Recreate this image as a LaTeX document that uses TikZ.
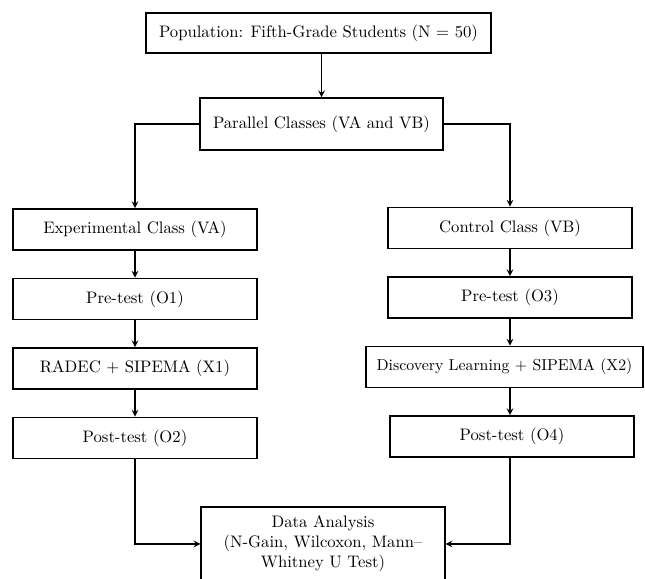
\documentclass[tikz,border=0pt]{standalone}
\usepackage{tikz}
\usetikzlibrary{arrows,positioning}
\tikzstyle{process} = [rectangle, minimum width=146pt, minimum height=24.6pt, inner sep=2pt, text centered, draw=black, line width=1.1pt, fill=white]
\tikzstyle{arrow} = [thick,->,>=stealth]

\begin{document}
\begin{tikzpicture}[x=0.6pt, y=-0.6pt, node distance=41.7pt]
\useasboundingbox (0,0) rectangle (645,578);
\node (population) [process, minimum width=207pt, minimum height=24pt] at (318.5,33) {Population: Fifth-Grade Students (N = 50)};
\node (parallel) [process, minimum height=31pt] at (321.5,124) {Parallel Classes (VA and VB)};

% experimental group
\node (experimental) [process] at (135,229.5) {Experimental Class (VA)};
\node (pretestA) [process, below of=experimental] {Pre-test (O1)};
\node (radec) [process, below of=pretestA] {RADEC + SIPEMA (X1)};
\node (posttestA) [process, below of=radec] {Post-test (O2)};

% control group
\node (control) [process] at (510,228) {Control Class (VB)};
\node (pretestB) [process, below of=control] {Pre-test (O3)};
\node (discovery) [process, below of=pretestB, xshift=-3.3pt, minimum width=166pt, inner sep=1pt] {\fontsize{9.5pt}{11pt}\selectfont Discovery Learning + SIPEMA (X2)};
\node (posttestB) [process, below of=control, yshift=-83.4pt, xshift=1.2pt] {Post-test (O4)};

\node (analysis) [process, anchor=north, minimum height=44.4pt, align=center] at (323,506) {Data Analysis\\(N-Gain, Wilcoxon, Mann--\\Whitney U Test)};

\draw [arrow] (parallel |- population.south) -- (parallel);
\draw [arrow] (parallel.west) -| (experimental);
\draw [arrow] (parallel.east) -| (control);
\draw [arrow] (experimental) -- (pretestA);
\draw [arrow] (pretestA) -- (radec);
\draw [arrow] (radec) -- (posttestA);
\draw [arrow] (control) -- (pretestB);
\draw [arrow] (pretestB) -- (pretestB |- discovery.north);
\draw [arrow] (pretestB |- discovery.south) -- (pretestB |- posttestB.north);
\draw [arrow] (posttestA) |- (analysis);
\draw [arrow] (pretestB |- posttestB.south) |- (analysis);
\end{tikzpicture}
\end{document}
